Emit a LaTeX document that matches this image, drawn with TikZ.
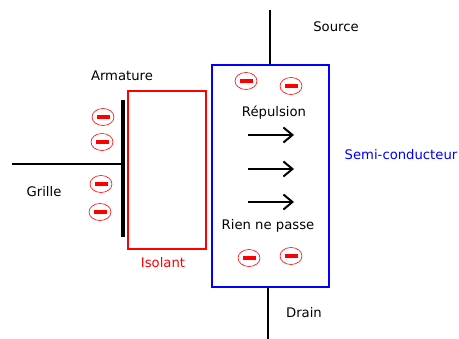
\documentclass[tikz,border=0pt]{standalone}
\usepackage{fontspec}
\setmainfont{DejaVu Sans}
\usetikzlibrary{arrows.meta,shapes.geometric}
\begin{document}
\begin{tikzpicture}[x=1pt,y=-1pt,
  lbl/.style={font=\fontsize{13.2}{15}\selectfont, inner sep=0pt},
  minus/.style={draw=red, line width=0.6pt, ellipse, minimum width=22pt, minimum height=17pt, inner sep=0pt,
    path picture={\fill[red] ([xshift=-6.5pt,yshift=-1.7pt]path picture bounding box.center) rectangle ([xshift=6.5pt,yshift=1.7pt]path picture bounding box.center);}},
  arr/.style={-{Straight Barb[length=9pt,width=15pt,line width=2pt]}, line width=2pt}
]
\useasboundingbox (0,0) rectangle (459,339);
% semiconductor
\node[draw=blue, line width=2pt, minimum width=117pt, minimum height=222pt, inner sep=0pt] (sc) at (270.5,176) {};
% insulator
\node[draw=red, line width=2pt, minimum width=78pt, minimum height=158pt, inner sep=0pt] (iso) at (167,170) {};
% source / drain
\coordinate (srcT) at (270,10);
\coordinate (drnB) at (268,339);
\draw[line width=2pt] (srcT) -- (srcT |- sc.north);
\draw[line width=2pt] (drnB |- sc.south) -- (drnB);
% armature plate and gate
\coordinate (armT) at (123,100);
\coordinate (armB) at (123,237);
\coordinate (gate) at (12,164);
\draw[line width=4pt] (armT) -- (armB);
\draw[line width=2pt] (gate) -- (gate -| armT);
% labels
\node[lbl] (source) at (336,27) {Source};
\node[lbl] (drain) at (304,313) {Drain};
\node[lbl] (armature) at (122,76) {Armature};
\node[lbl] (grille) at (44,192) {Grille};
\node[lbl, text=red] (isolant) at (163,263) {Isolant};
\node[lbl, text=blue] (semi) at (401,155) {Semi-conducteur};
\node[lbl] (rep) at (274,113) {Répulsion};
\node[lbl] (rien) at (268,226) {Rien ne passe};
% arrows
\coordinate (a1) at (248,135); \coordinate (b1) at (294,135);
\coordinate (a2) at (248,169); \coordinate (b2) at (294,169);
\coordinate (a3) at (248,202); \coordinate (b3) at (294,202);
\draw[arr] (a1) -- (b1);
\draw[arr] (a2) -- (b2);
\draw[arr] (a3) -- (b3);
% charges
\node[minus] (m1) at (103,117) {};
\node[minus] (m2) at (102,142) {};
\node[minus] (m3) at (101,184) {};
\node[minus] (m4) at (100,212) {};
\node[minus] (m5) at (246,81) {};
\node[minus] (m6) at (291,86) {};
\node[minus] (m7) at (249,258) {};
\node[minus] (m8) at (291,256) {};
\end{tikzpicture}
\end{document}
